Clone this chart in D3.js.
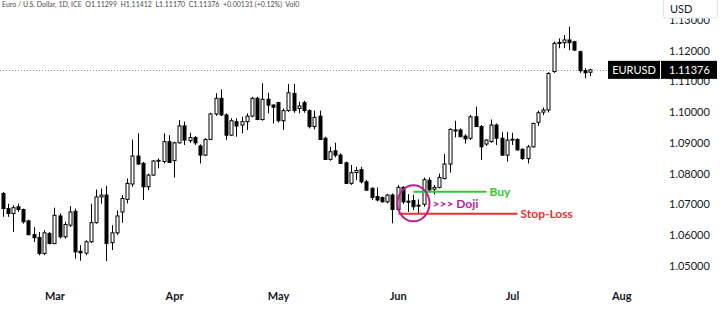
<!DOCTYPE html>
<html>
<head>
<meta charset="utf-8">
<script src="https://cdn.jsdelivr.net/npm/d3@7"></script>
<style>
body { margin: 0; background: #fff; }
svg { display: block; font-family: Lato, "Liberation Sans", sans-serif; }
</style>
</head>
<body>
<svg id="drawing_region"></svg>
<script>
// EURUSD daily candles
const dates = [
  '2023-02-15','2023-02-16','2023-02-17','2023-02-20','2023-02-21','2023-02-22','2023-02-23','2023-02-24','2023-02-27','2023-02-28',
  '2023-03-01','2023-03-02','2023-03-03','2023-03-06','2023-03-07','2023-03-08','2023-03-09','2023-03-10','2023-03-13','2023-03-14',
  '2023-03-15','2023-03-16','2023-03-17','2023-03-20','2023-03-21','2023-03-22','2023-03-23','2023-03-24','2023-03-27','2023-03-28',
  '2023-03-29','2023-03-30','2023-03-31','2023-04-03','2023-04-04','2023-04-05','2023-04-06','2023-04-07','2023-04-10','2023-04-11',
  '2023-04-12','2023-04-13','2023-04-14','2023-04-17','2023-04-18','2023-04-19','2023-04-20','2023-04-21','2023-04-24','2023-04-25',
  '2023-04-26','2023-04-27','2023-04-28','2023-05-01','2023-05-02','2023-05-03','2023-05-04','2023-05-05','2023-05-08','2023-05-09',
  '2023-05-10','2023-05-11','2023-05-12','2023-05-15','2023-05-16','2023-05-17','2023-05-18','2023-05-19','2023-05-22','2023-05-23',
  '2023-05-24','2023-05-25','2023-05-26','2023-05-29','2023-05-30','2023-05-31','2023-06-01','2023-06-02','2023-06-05','2023-06-06',
  '2023-06-07','2023-06-08','2023-06-09','2023-06-12','2023-06-13','2023-06-14','2023-06-15','2023-06-16','2023-06-19','2023-06-20',
  '2023-06-21','2023-06-22','2023-06-23','2023-06-26','2023-06-27','2023-06-28','2023-06-29','2023-06-30','2023-07-03','2023-07-04',
  '2023-07-05','2023-07-06','2023-07-07','2023-07-10','2023-07-11','2023-07-12','2023-07-13','2023-07-14','2023-07-17','2023-07-18',
  '2023-07-19','2023-07-20','2023-07-21','2023-07-24'
];
const open = [
  1.0735,1.0686,1.0670,1.0692,1.0683,1.0646,1.0601,1.0592,1.0540,1.0605,
  1.0572,1.0662,1.0594,1.0632,1.0677,1.0547,1.0541,1.0578,1.0640,1.0724,
  1.0730,1.0575,1.0607,1.0675,1.0716,1.0766,1.0857,1.0833,1.0757,1.0795,
  1.0841,1.0839,1.0904,1.0842,1.0900,1.0955,1.0907,1.0917,1.0890,1.0860,
  1.0911,1.0994,1.1045,1.0991,1.0925,1.0969,1.0958,1.0969,1.0987,1.1045,
  1.0976,1.1042,1.1023,1.1031,1.0972,1.1005,1.1061,1.1012,1.1031,1.1005,
  1.0953,1.0987,1.0915,1.0846,1.0874,1.0860,1.0835,1.0768,1.0803,1.0813,
  1.0773,1.0752,1.0725,1.0722,1.0708,1.0730,1.0683,1.0755,1.0708,1.0712,
  1.0694,1.0700,1.0778,1.0749,1.0755,1.0784,1.0831,1.0942,1.0942,1.0922,
  1.0915,1.0985,1.0953,1.0896,1.0904,1.0958,1.0915,1.0860,1.0910,1.0911,
  1.0879,1.0849,1.0887,1.0967,1.1000,1.1007,1.1132,1.1224,1.1226,1.1235,
  1.1229,1.1197,1.1135,1.11299
];
const high = [
  1.0740,1.0702,1.0697,1.0702,1.0686,1.0650,1.0626,1.0610,1.0616,1.0610,
  1.0689,1.0670,1.0643,1.0694,1.0686,1.0567,1.0583,1.0702,1.0748,1.0751,
  1.0760,1.0632,1.0680,1.0730,1.0784,1.0911,1.0931,1.0838,1.0800,1.0844,
  1.0849,1.0931,1.0925,1.0904,1.0974,1.0969,1.0933,1.0922,1.0895,1.0915,
  1.0998,1.1062,1.1074,1.0996,1.0980,1.0980,1.0985,1.0996,1.1050,1.1050,
  1.1094,1.1063,1.1026,1.1034,1.1012,1.1092,1.1092,1.1034,1.1037,1.1009,
  1.1005,1.1005,1.0920,1.0887,1.0900,1.0866,1.0839,1.0828,1.0822,1.0822,
  1.0779,1.0755,1.0755,1.0725,1.0733,1.0735,1.0763,1.0759,1.0733,1.0731,
  1.0716,1.0787,1.0787,1.0763,1.0800,1.0864,1.0947,1.0972,1.0947,1.0928,
  1.0991,1.1018,1.0958,1.0912,1.0976,1.0963,1.0936,1.0936,1.0933,1.0915,
  1.0882,1.0893,1.0966,1.1005,1.1015,1.1130,1.1230,1.1240,1.1251,1.1278,
  1.1232,1.1200,1.1143,1.11412
];
const low = [
  1.0659,1.0659,1.0610,1.0675,1.0637,1.0599,1.0577,1.0534,1.0534,1.0570,
  1.0570,1.0588,1.0588,1.0626,1.0523,1.0516,1.0534,1.0574,1.0637,1.0702,
  1.0515,1.0551,1.0600,1.0640,1.0703,1.0757,1.0828,1.0714,1.0746,1.0792,
  1.0817,1.0833,1.0835,1.0787,1.0898,1.0893,1.0900,1.0893,1.0833,1.0857,
  1.0909,1.0988,1.0987,1.0909,1.0922,1.0920,1.0931,1.0942,1.0983,1.0974,
  1.0972,1.0996,1.0963,1.0966,1.0942,1.1001,1.0998,1.0996,1.0998,1.0947,
  1.0944,1.0909,1.0844,1.0842,1.0853,1.0831,1.0766,1.0763,1.0779,1.0768,
  1.0744,1.0714,1.0709,1.0706,1.0703,1.0638,1.0681,1.0701,1.0675,1.0681,
  1.0670,1.0692,1.0739,1.0732,1.0752,1.0781,1.0803,1.0918,1.0918,1.0898,
  1.0909,1.0953,1.0844,1.0890,1.0900,1.0893,1.0858,1.0839,1.0893,1.0874,
  1.0844,1.0833,1.0885,1.0955,1.0990,1.0999,1.1128,1.1208,1.1208,1.1202,
  1.1200,1.1128,1.1110,1.11170
];
const close = [
  1.0686,1.0670,1.0689,1.0683,1.0643,1.0601,1.0591,1.0540,1.0607,1.0572,
  1.0664,1.0594,1.0634,1.0675,1.0545,1.0542,1.0578,1.0640,1.0724,1.0730,
  1.0572,1.0607,1.0662,1.0719,1.0768,1.0857,1.0831,1.0757,1.0795,1.0841,
  1.0843,1.0904,1.0836,1.0900,1.0955,1.0909,1.0917,1.0900,1.0860,1.0911,
  1.0994,1.1045,1.0991,1.0925,1.0972,1.0955,1.0969,1.0987,1.1045,1.0976,
  1.1042,1.1023,1.1016,1.0972,1.1005,1.1063,1.1005,1.1020,1.1005,1.0953,
  1.0983,1.0911,1.0846,1.0871,1.0860,1.0833,1.0768,1.0803,1.0810,1.0773,
  1.0746,1.0722,1.0714,1.0708,1.0730,1.0683,1.0755,1.0708,1.0710,1.0692,
  1.0697,1.0780,1.0747,1.0755,1.0787,1.0831,1.0944,1.0940,1.0920,1.0913,
  1.0985,1.0953,1.0887,1.0909,1.0958,1.0915,1.0860,1.0909,1.0912,1.0877,
  1.0849,1.0887,1.0963,1.0998,1.1007,1.1126,1.1224,1.1227,1.1235,1.1226,
  1.1202,1.1135,1.1128,1.11376
];

const priceTicks = [1.05, 1.06, 1.07, 1.08, 1.09, 1.10, 1.11, 1.12, 1.13];
const monthTicks = ['2023-03-01', '2023-04-03', '2023-05-01', '2023-06-01', '2023-07-03', '2023-08-01'];
const monthLabels = ['Mar', 'Apr', 'May', 'Jun', 'Jul', 'Aug'];

const header = 'Euro / U.S. Dollar, 1D, ICE  O1.11299  H1.11412  L1.11170  C1.11376  +0.00131 (+0.12%)  Vol0';
const symbol = 'EURUSD';
const lastPrice = 1.11376;

// trade setup drawn on the chart (candle index + price level)
const dojiIndex = 79;
const dojiPrice = 1.0703;
const buyPrice = 1.0741;
const buyRange = [79, 93];
const stopPrice = 1.0669;
const stopRange = [76, 99];

class CandleChart {
    constructor(config) {
        this.config = config;
        this.parse = d3.timeParse('%Y-%m-%d');
        this.data = dates.map((d, i) => ({
            date: this.parse(d),
            open: open[i], high: high[i], low: low[i], close: close[i]
        }));
        this.init();
    }

    // trading-day index counted from the first candle (weekdays only)
    dayIndex(date) {
        let self = this;
        let start = self.data[0].date;
        return d3.timeDay.range(start, date).filter(d => d.getDay() % 6 !== 0).length;
    }

    init() {
        let self = this;

        self.svg = d3.select(self.config.parent)
            .attr('width', self.config.width)
            .attr('height', self.config.height);

        self.svg.append('rect')
            .attr('width', self.config.width)
            .attr('height', self.config.height)
            .attr('fill', '#fff');

        self.xscale = d3.scaleLinear()
            .domain([0, 113])
            .range([2.5, 590]);

        self.yscale = d3.scaleLinear()
            .domain([1.05, 1.12])
            .range([265.7, 50.7]);

        self.render();
    }

    render() {
        let self = this;
        let x = i => Math.round(self.xscale(i)) + 0.5;
        let y = self.yscale;

        self.data.forEach(d => d.idx = self.dayIndex(d.date));

        // last price dotted line
        self.svg.append('line')
            .attr('x1', 0).attr('x2', 608)
            .attr('y1', Math.round(y(lastPrice)) + 0.5)
            .attr('y2', Math.round(y(lastPrice)) + 0.5)
            .attr('stroke', '#9598a1')
            .attr('stroke-dasharray', '1,2');

        const candles = self.svg.append('g');

        candles.selectAll('line')
            .data(self.data)
            .join('line')
            .attr('x1', d => x(d.idx))
            .attr('x2', d => x(d.idx))
            .attr('y1', d => y(d.high))
            .attr('y2', d => y(d.low))
            .attr('stroke', '#000')
            .attr('stroke-width', 1);

        candles.selectAll('rect')
            .data(self.data)
            .join('rect')
            .attr('x', d => x(d.idx) - 1.5)
            .attr('width', 3)
            .attr('y', d => y(Math.max(d.open, d.close)))
            .attr('height', d => Math.max(1, y(Math.min(d.open, d.close)) - y(Math.max(d.open, d.close))))
            .attr('fill', d => d.close >= d.open ? '#fff' : '#000')
            .attr('stroke', '#000')
            .attr('stroke-width', 1);

        // annotations
        self.svg.append('line')
            .attr('x1', x(buyRange[0])).attr('x2', x(buyRange[1]))
            .attr('y1', y(buyPrice)).attr('y2', y(buyPrice))
            .attr('stroke', '#2fc92f').attr('stroke-width', 2);

        self.svg.append('text')
            .attr('x', x(buyRange[1]) + 3)
            .attr('y', y(buyPrice))
            .attr('dy', '0.35em')
            .attr('fill', '#2fc92f')
            .attr('font-size', '12px')
            .attr('font-weight', 'bold')
            .text('Buy');

        self.svg.append('line')
            .attr('x1', x(stopRange[0])).attr('x2', x(stopRange[1]))
            .attr('y1', y(stopPrice)).attr('y2', y(stopPrice))
            .attr('stroke', '#e8302c').attr('stroke-width', 2);

        self.svg.append('text')
            .attr('x', x(stopRange[1]) + 3)
            .attr('y', y(stopPrice))
            .attr('dy', '0.35em')
            .attr('fill', '#e8302c')
            .attr('font-size', '12px')
            .attr('font-weight', 'bold')
            .text('Stop-Loss');

        self.svg.append('ellipse')
            .attr('cx', x(dojiIndex))
            .attr('cy', y(dojiPrice))
            .attr('rx', 16).attr('ry', 18)
            .attr('fill', 'none')
            .attr('stroke', '#c2188f')
            .attr('stroke-width', 2);

        self.svg.append('text')
            .attr('x', x(dojiIndex) + 19)
            .attr('y', y(dojiPrice))
            .attr('dy', '0.35em')
            .attr('fill', '#b81c9c')
            .attr('font-size', '12px')
            .attr('font-weight', 'bold')
            .text('>>> Doji');

        // price axis
        self.yaxis = d3.axisRight(self.yscale)
            .tickValues(priceTicks)
            .tickFormat(d3.format('.5f'))
            .tickSize(0)
            .tickPadding(0);

        self.svg.append('g')
            .attr('transform', 'translate(669, 0)')
            .call(self.yaxis)
            .call(g => g.select('.domain').remove())
            .call(g => g.selectAll('text')
                .attr('fill', '#131722')
                .attr('font-size', '11px')
                .attr('font-family', 'Lato, sans-serif'));

        // time axis
        self.xaxis = d3.axisBottom(self.xscale)
            .tickValues(monthTicks.map(m => self.dayIndex(self.parse(m))))
            .tickFormat((d, i) => monthLabels[i])
            .tickSize(0)
            .tickPadding(0);

        self.svg.append('g')
            .attr('transform', 'translate(0, 292)')
            .call(self.xaxis)
            .call(g => g.select('.domain').remove())
            .call(g => g.selectAll('text')
                .attr('fill', '#131722')
                .attr('font-size', '11px')
                .attr('font-weight', 'bold')
                .attr('font-family', 'Lato, sans-serif'));

        // USD box (covers the top tick label, as in the source)
        self.svg.append('rect')
            .attr('x', 663.5).attr('y', -2)
            .attr('width', 54).attr('height', 20)
            .attr('rx', 2)
            .attr('fill', '#fff')
            .attr('stroke', '#e0e3eb');

        self.svg.append('text')
            .attr('x', 670).attr('y', 9)
            .attr('dy', '0.35em')
            .attr('fill', '#131722')
            .attr('font-size', '11px')
            .text('USD');

        // symbol and last price labels
        let ly = y(lastPrice);
        self.svg.append('rect')
            .attr('x', 608).attr('y', ly - 9)
            .attr('width', 52).attr('height', 18)
            .attr('fill', '#000');
        self.svg.append('text')
            .attr('x', 634).attr('y', ly)
            .attr('dy', '0.35em')
            .attr('text-anchor', 'middle')
            .attr('fill', '#fff')
            .attr('font-size', '11px')
            .text(symbol);

        self.svg.append('rect')
            .attr('x', 661).attr('y', ly - 9)
            .attr('width', 56).attr('height', 18)
            .attr('fill', '#000');
        self.svg.append('text')
            .attr('x', 669).attr('y', ly)
            .attr('dy', '0.35em')
            .attr('fill', '#fff')
            .attr('font-size', '11px')
            .text(d3.format('.5f')(lastPrice));

        // header line
        self.svg.append('text')
            .attr('x', 2).attr('y', 5)
            .attr('dy', '0.35em')
            .attr('fill', '#4a4a4a')
            .attr('font-size', '7px')
            .attr('xml:space', 'preserve')
            .style('white-space', 'pre')
            .text(header);
    }
}

const config = {
    parent: '#drawing_region',
    width: 720,
    height: 311
};

const chart = new CandleChart(config);
</script>
</body>
</html>
